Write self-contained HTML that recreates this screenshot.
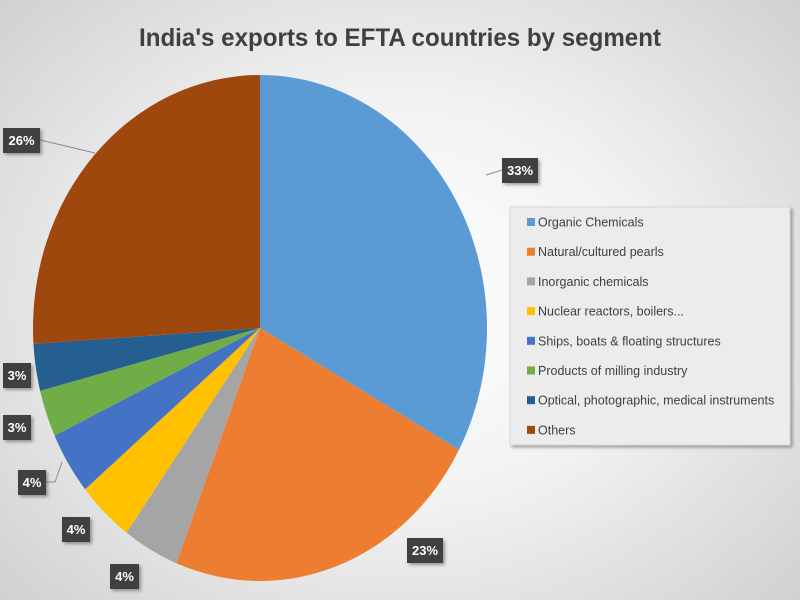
<!DOCTYPE html>
<html><head><meta charset="utf-8"><style>
html,body{margin:0;padding:0;width:800px;height:600px;overflow:hidden}
body{background:radial-gradient(ellipse 70% 75% at 50% 50%,#ffffff 0%,#f2f2f2 45%,#cfcfcf 100%)}
</style></head><body>
<svg width="800" height="600" xmlns="http://www.w3.org/2000/svg" style="position:absolute;left:0;top:0">
<defs><filter id="sh" x="-20%" y="-20%" width="150%" height="150%"><feDropShadow dx="2" dy="2" stdDeviation="1.5" flood-opacity="0.35"/></filter></defs>
<text x="400" y="46" text-anchor="middle" font-family="Liberation Sans, sans-serif" font-weight="bold" font-size="25" fill="#404040" textLength="522" lengthAdjust="spacingAndGlyphs">India's exports to EFTA countries by segment</text>
<g id="pie"></g>
<g stroke="#8c8c8c" stroke-width="1" fill="none">
<polyline points="40,140 95,153"/>
<polyline points="502,170 486,175"/>
<polyline points="45,482 55,482 62,462"/>
</g>
<g font-family="Liberation Sans, sans-serif" font-weight="bold" font-size="13" fill="#fff" text-anchor="middle">
<rect x="3" y="128" width="37" height="25" fill="#404040" filter="url(#sh)"/><text x="21.5" y="145">26%</text>
<rect x="502" y="158" width="36" height="25" fill="#404040" filter="url(#sh)"/><text x="520" y="175">33%</text>
<rect x="407" y="538" width="36" height="25" fill="#404040" filter="url(#sh)"/><text x="425" y="555">23%</text>
<rect x="3" y="363" width="28" height="25" fill="#404040" filter="url(#sh)"/><text x="17" y="380">3%</text>
<rect x="3" y="415" width="28" height="25" fill="#404040" filter="url(#sh)"/><text x="17" y="432">3%</text>
<rect x="18" y="470" width="28" height="25" fill="#404040" filter="url(#sh)"/><text x="32" y="487">4%</text>
<rect x="62" y="517" width="28" height="25" fill="#404040" filter="url(#sh)"/><text x="76" y="534">4%</text>
<rect x="110" y="564" width="29" height="25" fill="#404040" filter="url(#sh)"/><text x="124.5" y="581">4%</text>
</g>
<rect x="510" y="207" width="280" height="238" fill="#ececec" stroke="#d8d8d8" filter="url(#sh)"/>
<g font-family="Liberation Sans, sans-serif" font-size="12.5" fill="#404040" id="leg"></g>
</svg>
<script>
var cols=["#5b9bd5","#ed7d31","#a5a5a5","#ffc000","#4472c4","#70ad47","#255e91","#9e480e"];
var vals=[33,23,4,4,4,3,3,26];
var names=["Organic Chemicals","Natural/cultured pearls","Inorganic chemicals","Nuclear reactors, boilers...","Ships, boats & floating structures","Products of milling industry","Optical, photographic, medical instruments","Others"];
var cx=260,cy=328,rx=227,ry=253,a=0,ns="http://www.w3.org/2000/svg";
var g=document.getElementById("pie");
function pt(t){return [cx+rx*Math.sin(t),cy-ry*Math.cos(t)];}
for(var i=0;i<8;i++){var a0=a,a1=a+vals[i]/100*2*Math.PI;a=a1;var p0=pt(a0),p1=pt(a1);
var p=document.createElementNS(ns,"path");
p.setAttribute("d","M"+cx+","+cy+"L"+p0[0]+","+p0[1]+"A"+rx+","+ry+" 0 "+((a1-a0)>Math.PI?1:0)+" 1 "+p1[0]+","+p1[1]+"Z");
p.setAttribute("fill",cols[i]);g.appendChild(p);}
var l=document.getElementById("leg");
for(var i=0;i<8;i++){var y=222+i*29.7;
var r=document.createElementNS(ns,"rect");r.setAttribute("x",527);r.setAttribute("y",y-4);r.setAttribute("width",8);r.setAttribute("height",8);r.setAttribute("fill",cols[i]);l.appendChild(r);
var t=document.createElementNS(ns,"text");t.setAttribute("x",538);t.setAttribute("y",y+4.5);t.textContent=names[i];l.appendChild(t);}
</script>
</body></html>
